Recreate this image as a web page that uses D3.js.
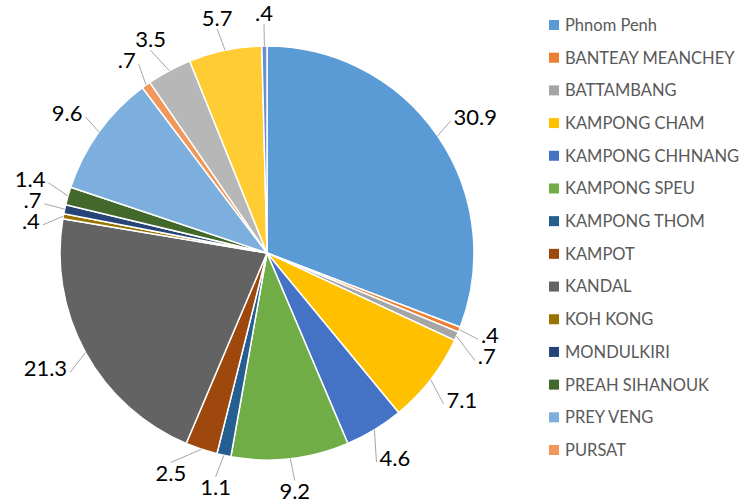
<!DOCTYPE html>
<html><head><meta charset="utf-8">
<script src="https://cdn.jsdelivr.net/npm/d3@7"></script>
<style>body{margin:0;background:#fff}svg{display:block}text{font-family:Lato,"Open Sans",sans-serif}</style>
</head><body><svg id="c" width="740" height="499"></svg>
<script>
const categories = ["Phnom Penh","BANTEAY MEANCHEY","BATTAMBANG","KAMPONG CHAM","KAMPONG CHHNANG","KAMPONG SPEU","KAMPONG THOM","KAMPOT","KANDAL","KOH KONG","MONDULKIRI","PREAH SIHANOUK","PREY VENG","PURSAT","(15)","(16)","(17)"];
const values = [30.9,0.4,0.7,7.1,4.6,9.2,1.1,2.5,21.3,0.4,0.7,1.4,9.6,0.7,3.5,5.7,0.4];
const labels = ["30.9",".4",".7","7.1","4.6","9.2","1.1","2.5","21.3",".4",".7","1.4","9.6",".7","3.5","5.7",".4"];
const legendCount = 14;
const colors = ["#5B9BD5","#ED7D31","#A5A5A5","#FFC000","#4472C4","#70AD47","#255E91","#9E480E","#636363","#997300","#264478","#43682B","#7CAFDD","#F1975A","#B7B7B7","#FFCD33","#698ED0"];

const svg = d3.select("#c");
const cx = 267, cy = 253, r = 207;
const g = svg.append("g").attr("transform",`translate(${cx},${cy})`);
const pie = d3.pie().sort(null).value(d=>d)(values);
const arc = d3.arc().innerRadius(0).outerRadius(r);
g.selectAll("path.s").data(pie).join("path").attr("class","s")
  .attr("d",arc).attr("fill",(d,i)=>colors[i]).attr("stroke","#fff").attr("stroke-width",1.5);

// labels
const fs = 22, lh = 18, R = r + 24, gap = 21;
const items = pie.map((d,i)=>{
  const a = (d.startAngle+d.endAngle)/2;
  const s = Math.sin(a), c = -Math.cos(a);
  return {i, a, s, c, ax: r*s, ay: r*c, px: R*s, py: R*c, text: labels[i]};
});
const tmp = g.append("text").attr("font-size",fs);
items.forEach(it=>{ tmp.text(it.text); it.w = tmp.node().getComputedTextLength(); it.h = lh;
  it.x = it.px + it.w/2*it.s; it.y = it.py + it.h/2*it.c; });
tmp.remove();
// relax overlaps: near top/bottom push sideways, elsewhere push vertically
for (let iter=0; iter<80; iter++){
  for (let m=0;m<items.length;m++) for (let n=m+1;n<items.length;n++){
    const p = items[m], q = items[n];
    const side = Math.abs(p.c)>0.9 && Math.abs(q.c)>0.9;
    const ox = (p.w+q.w)/2 + (side?14:4) - Math.abs(p.x-q.x);
    const oy = gap - Math.abs(p.y-q.y);
    if (ox>0 && oy>0){
      if (side){
        const outer = Math.abs(p.s) > Math.abs(q.s) ? p : q;
        outer.x += (outer.s<0?-1:1)*Math.min(ox,2);
        outer.y -= 0.4*Math.min(ox,2);
      } else {
        const dir = p.y<q.y ? -1 : 1;
        p.y += dir*Math.min(oy,2)/2; q.y -= dir*Math.min(oy,2)/2;
      }
    }
  }
}
const lg = g.append("g");
items.forEach(it=>{
  let tx = Math.abs(it.s)>0.5 ? (it.s>0? it.x-it.w/2-3 : it.x+it.w/2+3) : it.x;
  let ty = Math.abs(it.s)>0.5 ? it.y+4 : (it.c<0? it.y+it.h/2+2 : it.y-it.h/2-2);
  lg.append("polyline").attr("points",`${it.ax},${it.ay} ${tx},${ty}`)
    .attr("fill","none").attr("stroke","#A6A6A6").attr("stroke-width",1);
  g.append("text").attr("x",it.x).attr("y",it.y).attr("dy","0.35em")
    .attr("text-anchor","middle").attr("font-size",fs).attr("fill","#000").text(it.text);
});

// legend
const leg = svg.append("g");
const ly = d3.scaleLinear().domain([0,legendCount-1]).range([25,450]);
categories.slice(0,legendCount).forEach((name,i)=>{
  leg.append("rect").attr("x",549).attr("y",ly(i)-5).attr("width",10).attr("height",10).attr("fill",colors[i]);
  leg.append("text").attr("x",565).attr("y",ly(i)).attr("dy","0.36em").attr("font-size",16.5).attr("fill","#595959").text(name);
});
</script></body></html>
